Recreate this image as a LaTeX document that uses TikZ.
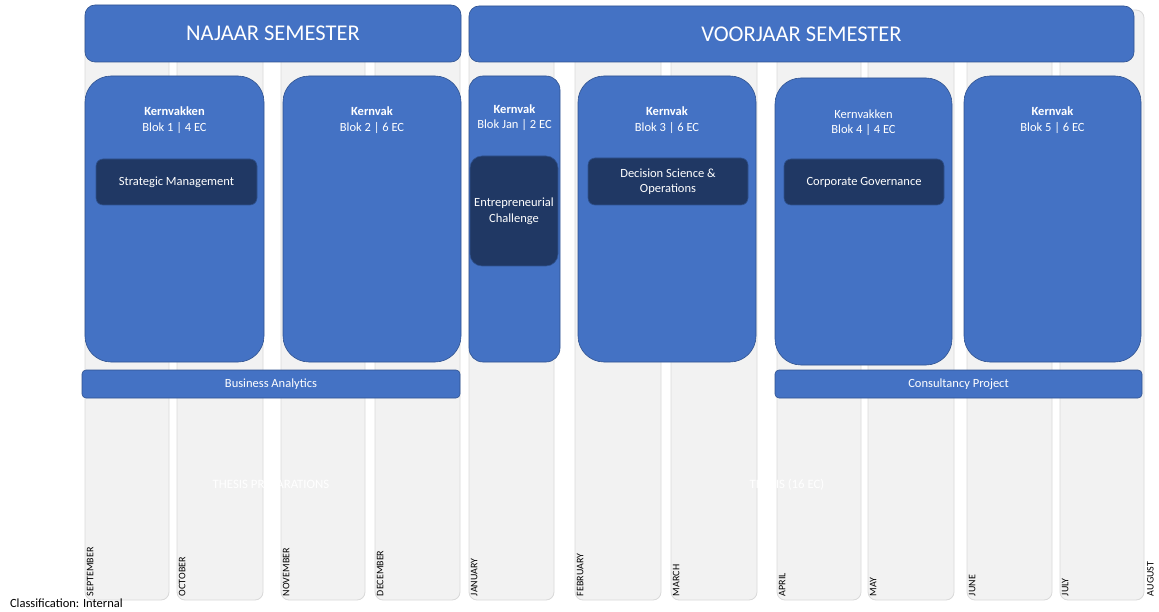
\documentclass[tikz,border=0pt]{standalone}
\usepackage{fontspec}
\setmainfont{Carlito}
\definecolor{blu}{HTML}{4472C4}
\definecolor{bluline}{HTML}{2F528F}
\definecolor{dblu}{HTML}{203864}
\definecolor{colfill}{HTML}{F2F2F2}
\definecolor{colline}{HTML}{D9D9D9}
\tikzset{
  every node/.style={inner sep=0pt, outer sep=0pt},
  monthcol/.style={draw=colline, fill=colfill, line width=0.8pt, rounded corners=8pt, anchor=north west},
  semhead/.style={draw=bluline, fill=blu, line width=0.6pt, rounded corners=10pt, anchor=north west},
  bigbox/.style={draw=bluline, fill=blu, line width=0.6pt, rounded corners=26pt, anchor=north west},
  darkbox/.style={draw=bluline, fill=dblu, line width=0.6pt, rounded corners=7pt, anchor=north west},
  barbox/.style={draw=bluline, fill=blu, line width=0.6pt, rounded corners=4pt, anchor=north west},
  headtxt/.style={text=white, font=\fontsize{22.5}{26}\selectfont},
  boxtxt/.style={text=white, align=center, font=\fontsize{12.5}{15.5}\selectfont},
  monthtxt/.style={rotate=90, anchor=north west, text=black, font=\fontsize{10}{12}\selectfont, inner sep=1pt},
  thesistxt/.style={text=white, font=\fontsize{12.8}{15}\selectfont}
}
\begin{document}
\begin{tikzpicture}[x=1pt, y=-1pt]
\useasboundingbox (0,0) rectangle (1159,612);
% month columns
\node[monthcol, minimum width=84, minimum height=590] (sep) at (85,10) {};
\node[monthcol, minimum width=86, minimum height=590] (oct) at (177,10) {};
\node[monthcol, minimum width=84, minimum height=590] (nov) at (281,10) {};
\node[monthcol, minimum width=85, minimum height=590] (dec) at (375,10) {};
\node[monthcol, minimum width=85, minimum height=590] (jan) at (469,10) {};
\node[monthcol, minimum width=86, minimum height=590] (feb) at (575,10) {};
\node[monthcol, minimum width=86, minimum height=590] (mar) at (671,10) {};
\node[monthcol, minimum width=84, minimum height=590] (apr) at (777,10) {};
\node[monthcol, minimum width=86, minimum height=590] (may) at (868,10) {};
\node[monthcol, minimum width=85, minimum height=590] (jun) at (967,10) {};
\node[monthcol, minimum width=84, minimum height=590] (jul) at (1060,10) {};
% month labels
\node[monthtxt] (lsep) at (86,597) {SEPTEMBER};
\node[monthtxt] (loct) at (178,597) {OCTOBER};
\node[monthtxt] (lnov) at (282,597) {NOVEMBER};
\node[monthtxt] (ldec) at (376,597) {DECEMBER};
\node[monthtxt] (ljan) at (470,597) {JANUARY};
\node[monthtxt] (lfeb) at (576,597) {FEBRUARY};
\node[monthtxt] (lmar) at (672,597) {MARCH};
\node[monthtxt] (lapr) at (778,597) {APRIL};
\node[monthtxt] (lmay) at (869,597) {MAY};
\node[monthtxt] (ljun) at (968,597) {JUNE};
\node[monthtxt] (ljul) at (1061,597) {JULY};
\node[monthtxt] (laug) at (1146,597) {AUGUST};
% thesis texts
\node[thesistxt] (thp) at (271,484) {THESIS PREPARATIONS};
\node[thesistxt] (th) at (787,485) {THESIS (16 EC)};
% semester headers
\node[semhead, minimum width=376, minimum height=57] (naj) at (85,5) {};
\node[headtxt] at (naj.center) {NAJAAR SEMESTER};
\node[semhead, minimum width=665, minimum height=56] (voo) at (469,6) {};
\node[headtxt] at (voo.center) {VOORJAAR SEMESTER};
% big blocks
\node[bigbox, minimum width=179, minimum height=286] (b1) at (85,76) {};
\node[boxtxt] (t1) at (174.5,120) {\textbf{Kernvakken}\\Blok 1 | 4 EC};
\node[bigbox, minimum width=178, minimum height=286] (b2) at (283,76) {};
\node[boxtxt] (t2) at (372,120) {\textbf{Kernvak}\\Blok 2 | 6 EC};
\node[bigbox, rounded corners=14pt, minimum width=91, minimum height=286] (bj) at (469,76) {};
\node[boxtxt] (tj) at (514.5,117.5) {\textbf{Kernvak}\\Blok Jan | 2 EC};
\node[bigbox, minimum width=178, minimum height=286] (b3) at (578,76) {};
\node[boxtxt] (t3) at (667,120) {\textbf{Kernvak}\\Blok 3 | 6 EC};
\node[bigbox, minimum width=177, minimum height=287] (b4) at (775,78) {};
\node[boxtxt] (t4) at (863.5,122.5) {Kernvakken\\Blok 4 | 4 EC};
\node[bigbox, minimum width=177, minimum height=286] (b5) at (964,76) {};
\node[boxtxt] (t5) at (1052.5,120) {\textbf{Kernvak}\\Blok 5 | 6 EC};
% course boxes
\node[darkbox, minimum width=161, minimum height=46] (sm) at (96,159) {};
\node[boxtxt] at (sm.center) {Strategic Management};
\node[darkbox, rounded corners=12pt, minimum width=88, minimum height=110] (ec) at (470,156) {};
\node[boxtxt] at (ec.center) {Entrepreneurial\\Challenge};
\node[darkbox, minimum width=160, minimum height=47] (ds) at (588,158) {};
\node[boxtxt] at (ds.center) {Decision Science \&\\Operations};
\node[darkbox, minimum width=160, minimum height=46] (cg) at (784,159) {};
\node[boxtxt] at (cg.center) {Corporate Governance};
% bars
\node[barbox, minimum width=378, minimum height=28] (ba) at (82,370) {};
\node[boxtxt] at (ba.center) {Business Analytics};
\node[barbox, minimum width=367, minimum height=28] (cp) at (775,370) {};
\node[boxtxt] at (cp.center) {Consultancy Project};
% classification
\node[anchor=west, text=black, font=\fontsize{12.5}{14}\selectfont] (cls) at (10,603) {Classification: Internal};
\end{tikzpicture}
\end{document}
